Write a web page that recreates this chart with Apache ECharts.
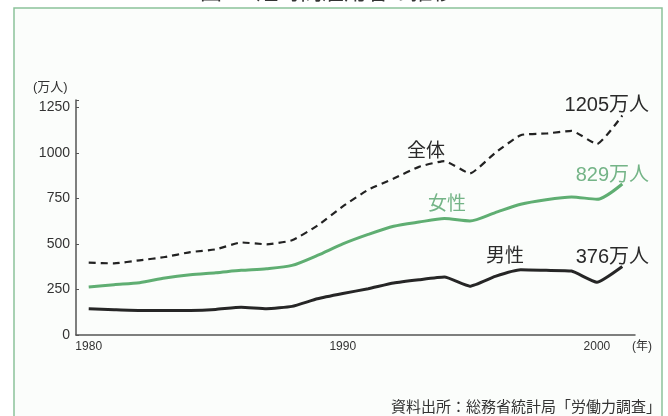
<!DOCTYPE html>
<html><head><meta charset="utf-8">
<script src="https://cdn.jsdelivr.net/npm/echarts@6/dist/echarts.min.js"></script>
<style>html,body{margin:0;padding:0;background:#fff}#c{width:668px;height:416px}</style>
</head><body><div id="c"></div>
<script>
const years = ['1980','1981','1982','1983','1984','1985','1986','1987','1988','1989','1990','1991','1992','1993','1994','1995','1996','1997','1998','1999','2000','2001'];
const total = [397, 393, 410, 428, 455, 470, 508, 498, 520, 600, 706, 797, 859, 923, 955, 887, 1000, 1097, 1106, 1121, 1048, 1205];
const women = [263, 276, 287, 313, 331, 342, 355, 364, 382, 437, 500, 552, 597, 620, 639, 626, 672, 718, 743, 758, 745, 829];
const men = [144, 139, 135, 135, 135, 140, 153, 144, 157, 199, 228, 254, 285, 303, 318, 268, 322, 358, 355, 351, 290, 376];
const yTicks = [0, 250, 500, 750, 1000, 1250];

const FONT = '"Liberation Sans", "Noto Sans CJK JP", sans-serif';
const chart = echarts.init(document.getElementById('c'), null, {renderer: 'canvas'});
chart.setOption({
  animation: false,
  backgroundColor: '#ffffff',
  grid: {left: 76, right: 33, top: 100, bottom: 81, containLabel: false},
  graphic: [
    {type: 'rect', z: -10, shape: {x: 14, y: 8, width: 648, height: 420},
     style: {fill: '#fbfdfb', stroke: '#8cc29a', lineWidth: 1.5}},
    {type: 'text', left: 200, top: -18, style: {text: '図2　短時間雇用者の推移', fontSize: 22, fontFamily: FONT, fill: '#333'}},
    {type: 'text', x: 33, y: 87, style: {text: '(万人)', fontSize: 13, fontFamily: FONT, fill: '#333', textVerticalAlign: 'middle'}},
    {type: 'text', x: 632, y: 347, style: {text: '(年)', fontSize: 12, fontFamily: FONT, fill: '#333', textVerticalAlign: 'middle'}},
    {type: 'text', x: 649, y: 105, style: {text: '1205万人', fontSize: 20, fontFamily: FONT, fill: '#2a2a2a', textAlign: 'right', textVerticalAlign: 'middle'}},
    {type: 'text', x: 649, y: 175, style: {text: '829万人', fontSize: 20, fontFamily: FONT, fill: '#74b487', textAlign: 'right', textVerticalAlign: 'middle'}},
    {type: 'text', x: 649, y: 257, style: {text: '376万人', fontSize: 20, fontFamily: FONT, fill: '#2a2a2a', textAlign: 'right', textVerticalAlign: 'middle'}},
    {type: 'text', x: 407, y: 152, style: {text: '全体', fontSize: 19, fontFamily: FONT, fill: '#2a2a2a', textVerticalAlign: 'middle'}},
    {type: 'text', x: 428, y: 205, style: {text: '女性', fontSize: 19, fontFamily: FONT, fill: '#74b487', textVerticalAlign: 'middle'}},
    {type: 'text', x: 486, y: 257, style: {text: '男性', fontSize: 19, fontFamily: FONT, fill: '#2a2a2a', textVerticalAlign: 'middle'}},
    {type: 'text', x: 391, y: 408, style: {text: '資料出所：総務省統計局「労働力調査」', fontSize: 15, fontFamily: FONT, fill: '#333', textVerticalAlign: 'middle'}}
  ],
  xAxis: {
    type: 'category', data: years, boundaryGap: true,
    axisLine: {lineStyle: {color: '#555', width: 1.5}},
    axisTick: {inside: true, length: 4, interval: 0, lineStyle: {color: '#555'}},
    axisLabel: {interval: (i) => i % 10 === 0, fontSize: 12, fontFamily: FONT, color: '#333', margin: 6},
    splitLine: {show: false}
  },
  yAxis: {
    type: 'value', min: 0, max: 1290, interval: 250,
    axisLine: {show: true, lineStyle: {color: '#555', width: 1.5}},
    axisTick: {show: true, inside: true, length: 3, lineStyle: {color: '#555'}},
    axisLabel: {fontSize: 14, fontFamily: FONT, color: '#333', margin: 6,
      formatter: (v) => yTicks.indexOf(v) >= 0 ? String(v) : ''},
    splitLine: {show: false}
  },
  series: [
    {name: '全体', type: 'line', data: total, showSymbol: false, smooth: 0.15,
     lineStyle: {color: '#222', width: 2.2, type: [7, 5]}},
    {name: '女性', type: 'line', data: women, showSymbol: false, smooth: 0.25,
     lineStyle: {color: '#5fae72', width: 3}},
    {name: '男性', type: 'line', data: men, showSymbol: false, smooth: 0.15,
     lineStyle: {color: '#262626', width: 3}}
  ]
});
</script></body></html>
